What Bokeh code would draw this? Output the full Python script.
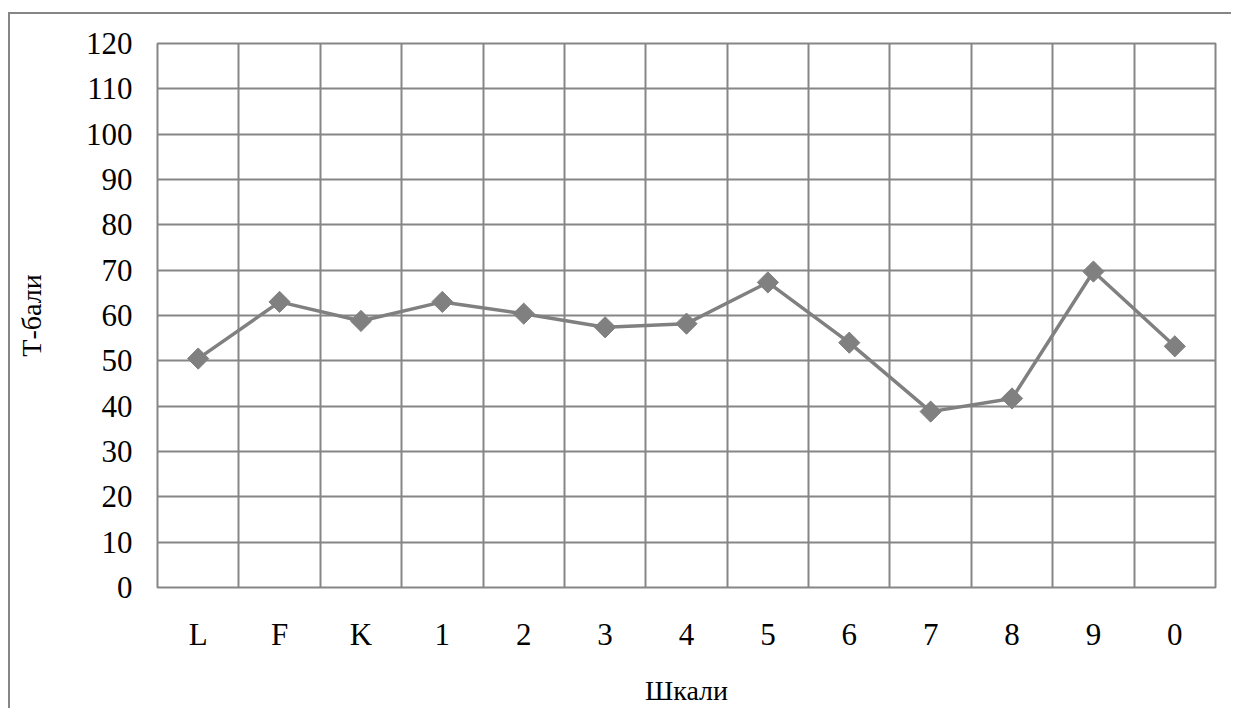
import math
from bokeh.plotting import figure
from bokeh.models import FixedTicker
from bokeh.embed import file_html
from bokeh.resources import INLINE

categories = ["L", "F", "K", "1", "2", "3", "4", "5", "6", "7", "8", "9", "0"]
t_scores = [50.5, 63.0, 58.8, 63.0, 60.4, 57.4, 58.2, 67.3, 54.0, 38.8, 41.7, 69.7, 53.2]
y_ticks = list(range(0, 130, 10))

x_pos = [i + 0.5 for i in range(len(categories))]
GRID = "#868686"
FONT = "Liberation Serif"

p = figure(width=1223, height=696, output_backend="svg", toolbar_location=None,
           x_range=(0, len(categories)), y_range=(0, 120),
           min_border_left=147, min_border_right=18, min_border_top=29, min_border_bottom=123)
p.styles = {"border-left": "2px solid #868686", "border-top": "2px solid #868686",
            "margin-top": "12px", "margin-left": "8px"}

p.outline_line_color = GRID
p.outline_line_width = 2

p.xaxis.ticker = FixedTicker(ticks=x_pos)
p.xaxis.major_label_overrides = {x: c for x, c in zip(x_pos, categories)}
p.xgrid.ticker = FixedTicker(ticks=list(range(0, len(categories) + 1)))
p.yaxis.ticker = FixedTicker(ticks=y_ticks)
p.ygrid.ticker = FixedTicker(ticks=y_ticks)

for g in (p.xgrid, p.ygrid):
    g.grid_line_color = GRID
    g.grid_line_width = 2
    g.grid_line_alpha = 1.0

for ax in (p.xaxis, p.yaxis):
    ax.axis_line_color = None
    ax.major_tick_line_color = None
    ax.minor_tick_line_color = None
    ax.major_tick_out = 0
    ax.major_tick_in = 0
    ax.minor_tick_out = 0
    ax.major_label_text_font = FONT
    ax.major_label_text_font_size = "31px"
    ax.major_label_text_color = "black"
    ax.axis_label_text_font = FONT
    ax.axis_label_text_font_size = "28px"
    ax.axis_label_text_font_style = "normal"
    ax.axis_label_text_color = "black"

p.xaxis.axis_label = "Шкали"
p.yaxis.axis_label = "Т-бали"
p.yaxis.major_label_standoff = 25
p.xaxis.major_label_standoff = 29
p.xaxis.axis_label_standoff = 20
p.yaxis.axis_label_standoff = 36

p.line(x_pos, t_scores, line_color="#808080", line_width=3.5)
p.scatter(x_pos, t_scores, marker="square", size=15, angle=math.pi / 4,
          fill_color="#808080", line_color="#808080")

open("out.html", "w").write(file_html(p, INLINE))
